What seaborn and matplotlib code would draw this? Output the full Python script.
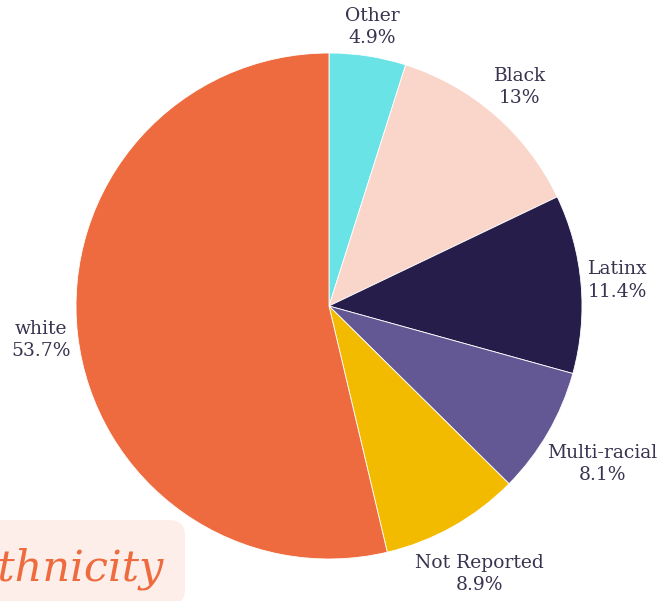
import matplotlib
matplotlib.use("Agg")
import matplotlib.pyplot as plt
import seaborn as sns
import numpy as np
from matplotlib.patches import FancyBboxPatch

groups = ["Other", "Black", "Latinx", "Multi-racial", "Not Reported", "white"]
shares = [4.9, 13, 11.4, 8.1, 8.9, 53.7]
share_labels = ["4.9%", "13%", "11.4%", "8.1%", "8.9%", "53.7%"]
palette = ["#6ae3e6", "#f9d5ca", "#261d4b", "#635893", "#f2bb00", "#ee6b3f"]

sns.set_theme(style="white")
plt.rcParams["font.family"] = ["DejaVu Serif"]

W, H = 663, 601
cx, cy, R = 329, 306, 253  # pie centre and radius in pixels (from top)

fig = plt.figure(figsize=(W / 100, H / 100), dpi=100)
ax = fig.add_axes([0, 0, 1, 1])

wedges, _ = ax.pie(shares, colors=sns.color_palette(palette), startangle=90,
                   counterclock=False, radius=1,
                   wedgeprops={"linewidth": 0.6, "edgecolor": "white"})
ax.set_xlim(-cx / R, (W - cx) / R)
ax.set_ylim(-(H - cy) / R, cy / R)
ax.set_aspect("equal")
ax.axis("off")

# labels: box edge sits just outside the rim
fig.canvas.draw()
renderer = fig.canvas.get_renderer()
for w, name, lab in zip(wedges, groups, share_labels):
    ang = np.deg2rad((w.theta1 + w.theta2) / 2)
    t = ax.text(0, 0, f"{name}\n{lab}", ha="center", va="center",
                fontsize=13.5, color="#3a3350", linespacing=1.3)
    bb = t.get_window_extent(renderer)
    hw, hh = bb.width / 2 / R, bb.height / 2 / R
    d = 1.02 + hw * abs(np.cos(ang)) + hh * abs(np.sin(ang))
    t.set_position((d * np.cos(ang), d * np.sin(ang)))

# title badge in the lower left corner
badge = FancyBboxPatch((-30 / W, -4 / H), 215 / W, 85 / H,
                       boxstyle="round,pad=0,rounding_size=0.025",
                       transform=fig.transFigure, facecolor="#fdeee9",
                       edgecolor="none", zorder=3)
fig.patches.append(badge)
fig.text(164 / W, 1 - 580 / H, "Ethnicity", ha="right", va="baseline",
         fontsize=31, style="italic", color="#ee6b3f", zorder=4)

fig.savefig("out.png", dpi=100)
